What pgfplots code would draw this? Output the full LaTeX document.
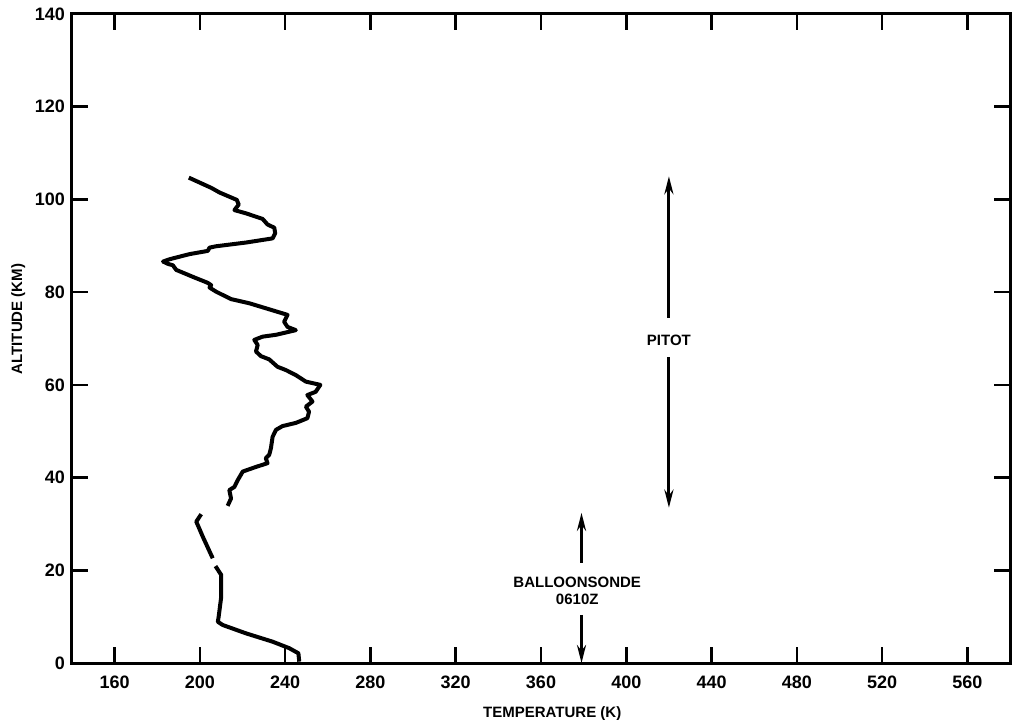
\documentclass[border=0pt]{standalone}
\usepackage{fontspec}
\setmainfont{Liberation Sans}
\usepackage{pgfplots}
\pgfplotsset{compat=1.18}
\usetikzlibrary{arrows.meta}
\begin{document}
\begin{tikzpicture}
\begin{axis}[
  scale only axis,
  width=469pt, height=324.5pt,
  xmin=140, xmax=580, ymin=0, ymax=140,
  xtick={160,200,...,560},
  ytick={0,20,...,140},
  tick align=inside,
  major tick length=8pt,
  every tick/.style={line width=1.3pt, black},
  axis line style={line width=1.5pt},
  /pgf/number format/assume math mode=true,
  ticklabel style={font=\bfseries\fontsize{9}{10}\selectfont},
  xticklabel style={yshift=-3pt},
  xlabel={TEMPERATURE (K)},
  ylabel={ALTITUDE (KM)},
  xlabel style={font=\bfseries\fontsize{7.5}{9}\selectfont, at={(ticklabel cs:0.512)}, yshift=-2pt},
  ylabel style={font=\bfseries\fontsize{7.5}{9}\selectfont, at={(ticklabel cs:0.53)}, yshift=-2pt},
  clip=false,
]
\coordinate (bl) at (rel axis cs:0,0);
\coordinate (tr) at (rel axis cs:1,1);
\addplot[black, line width=2pt, line join=round] coordinates {
(194.8,104.7) (205.3,102.5) (209.2,101.5) (217.3,99.9) (218.2,98.9) (216.2,97.7)
(221.6,97.0) (229.4,95.8) (231.7,94.6) (234.9,93.9) (235.3,92.7) (234.1,91.6)
(221.6,90.7) (207.6,89.9) (204.5,89.6) (203.7,88.9) (195.1,88.2) (185.8,87.1)
(182.7,86.6) (185.0,86.1) (187.3,85.8) (188.9,84.8) (196.7,83.3) (203.7,82.0)
(205.3,81.5) (204.5,81.0) (207.6,80.1) (214.6,78.5) (223.2,77.6) (232.5,76.3)
(241.1,75.1) (239.5,73.6) (241.1,72.5) (245.0,71.8) (235.7,70.8) (229.4,70.4)
(225.5,69.7) (227.1,68.6) (226.3,67.2) (228.6,66.2) (232.5,65.5) (236.4,63.9)
(240.3,63.2) (245.0,62.1) (249.7,60.7) (256.5,60.0) (254.3,58.5) (250.4,57.8)
(252.8,56.4) (249.7,55.3) (251.2,54.2) (250.4,52.8) (245.0,51.8) (238.7,51.1)
(235.7,50.3) (234.1,48.8) (233.3,46.3) (232.5,44.9) (230.9,44.2) (231.7,43.1)
(226.3,42.3) (220.1,41.3) (217.8,39.5) (216.2,38.0) (213.8,37.3) (214.6,35.5)
(213.0,33.9)
};
\addplot[black, line width=2pt, line join=round] coordinates {
(200.6,32.1) (198.3,30.5) (201.4,27.2) (206.0,22.6)
};
\addplot[black, line width=2pt, line join=round] coordinates {
(207.3,20.9) (210.0,19.0) (210.0,14.3) (208.8,10.0) (208.4,8.9) (210.7,8.2)
(221.6,6.4) (234.1,4.6) (241.9,3.2) (246.2,2.1) (246.6,0.3)
};
% PITOT arrow
\draw[line width=1.5pt, -{Stealth[length=9pt,width=4.5pt]}] (axis cs:420,74.5) -- (axis cs:420,105);
\draw[line width=1.5pt, -{Stealth[length=9pt,width=4.5pt]}] (axis cs:420,66) -- (axis cs:420,33.5);
\node[font=\bfseries\fontsize{7.5}{9}\selectfont] at (axis cs:420,69.5) {PITOT};
% Balloonsonde arrow
\draw[line width=1.5pt, -{Stealth[length=9pt,width=4.5pt]}] (axis cs:379,21.6) -- (axis cs:379,32.4);
\draw[line width=1.5pt, -{Stealth[length=9pt,width=4.5pt]}] (axis cs:379,10.4) -- (axis cs:379,0);
\node[font=\bfseries\fontsize{7.5}{8.5}\selectfont, align=center] at (axis cs:377,15.5) {BALLOONSONDE\\0610Z};
\end{axis}
\pgfresetboundingbox
\path ([shift={(-36pt,-28pt)}]bl) rectangle ([shift={(2pt,7pt)}]tr);
\end{tikzpicture}
\end{document}
